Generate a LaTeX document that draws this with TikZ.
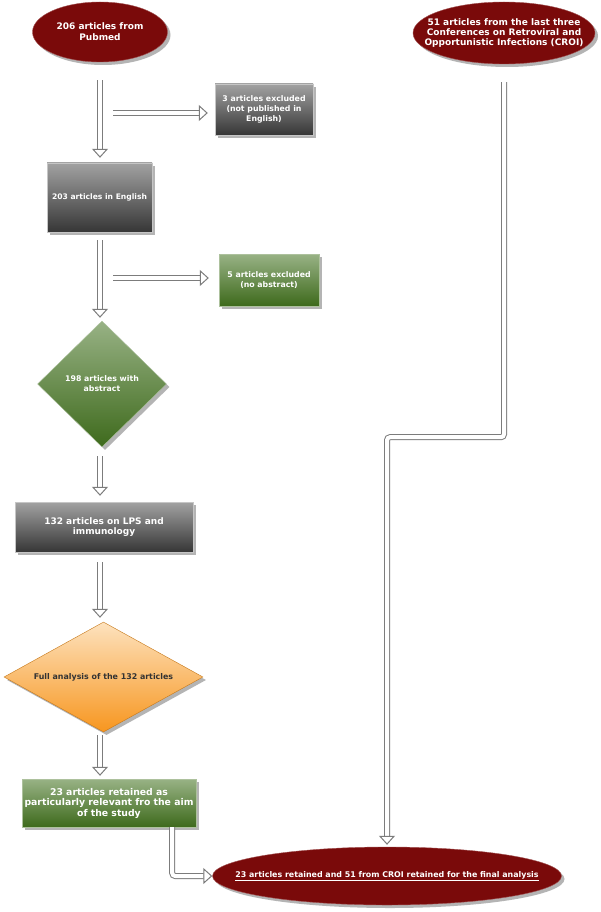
\documentclass[tikz,border=0pt]{standalone}
\usepackage{fontspec}
\setmainfont{DejaVu Sans}
\usepackage{xcolor}
\usepackage{tikz}
\usetikzlibrary{arrows.meta,shapes.geometric,shadows}
\definecolor{redx}{HTML}{7A0A0A}
\definecolor{arrgray}{HTML}{7C7C7C}
\definecolor{shadgray}{HTML}{B4B4B4}
\definecolor{graytop}{HTML}{A2A2A2}
\definecolor{graybot}{HTML}{363636}
\definecolor{greentop}{HTML}{98B285}
\definecolor{greenbot}{HTML}{3E6A1C}
\definecolor{orangetop}{HTML}{FDE2BE}
\definecolor{orangebot}{HTML}{F7961F}
\tikzset{
  ar/.style={draw=arrgray,line width=1pt,double=white,double distance=4pt,
    -{Triangle[open,length=9pt,width=16pt]}},
  shad/.style={drop shadow={shadow xshift=3pt,shadow yshift=-3pt,fill=shadgray,opacity=1}},
  redell/.style={ellipse,fill=redx,draw=redx!70,shad,text=white,align=center,inner sep=-40pt},
  graybox/.style={rectangle,draw=gray!45,top color=graytop,bottom color=graybot,shad,
    text=white,align=center,inner sep=2pt},
  greenbox/.style={rectangle,draw=greentop!80,top color=greentop,bottom color=greenbot,shad,
    text=white,align=center,inner sep=2pt},
  greendia/.style={diamond,draw=greentop!80,top color=greentop,bottom color=greenbot,shad,
    text=white,align=center,inner sep=0pt},
  orangedia/.style={diamond,draw=orangebot!80!black,top color=orangetop,bottom color=orangebot,shad,
    text=black!80,align=center,inner sep=0pt}
}
\begin{document}
\begin{tikzpicture}[x=1pt,y=-1pt]
\useasboundingbox[fill=white] (0,0) rectangle (600,912);
\node[redell,minimum width=135pt,minimum height=60pt,font=\fontsize{9}{11}\selectfont\bfseries]
  (pubmed) at (100,32) {206 articles from\\Pubmed};
\node[redell,minimum width=182pt,minimum height=62pt,font=\fontsize{9}{9.8}\selectfont\bfseries]
  (croi) at (504,33) {51 articles from the last three\\Conferences on Retroviral and\\Opportunistic Infections (CROI)};
\node[graybox,minimum width=98pt,minimum height=51pt,font=\fontsize{7.8}{9.7}\selectfont\bfseries]
  (excla) at (264,109.5) {3 articles excluded\\(not published in\\English)};
\node[graybox,minimum width=105pt,minimum height=69pt,font=\fontsize{7.6}{9}\selectfont\bfseries]
  (english) at (99.5,197.5) {203 articles in English};
\node[greenbox,minimum width=100pt,minimum height=52pt,font=\fontsize{7.8}{9.5}\selectfont\bfseries]
  (exclb) at (269,280) {5 articles excluded\\(no abstract)};
\node[greendia,minimum width=129pt,minimum height=126pt,font=\fontsize{7.8}{10}\selectfont\bfseries]
  (abstract) at (102,384) {198 articles with\\abstract};
\node[graybox,minimum width=178pt,minimum height=50pt,font=\fontsize{9}{10.5}\selectfont\bfseries]
  (lps) at (104,527) {132 articles on LPS and\\immunology};
\node[orangedia,aspect=1.8,minimum width=199pt,minimum height=110pt,font=\fontsize{7.9}{9}\selectfont\bfseries]
  (full) at (103.5,677) {Full analysis of the 132 articles};
\node[greenbox,minimum width=174pt,minimum height=48pt,font=\fontsize{9.3}{10.5}\selectfont\bfseries]
  (retained) at (109,803) {23 articles retained as\\particularly relevant fro the aim\\of the study};
\node[redell,minimum width=349pt,minimum height=58pt,font=\fontsize{7.9}{9}\selectfont\bfseries]
  (final) at (387,876) {\underline{23 articles retained and 51 from CROI retained for the final analysis}};
\coordinate (col) at (100,0);
\coordinate (ba) at (113,113);
\coordinate (bb) at (113,278);
\draw[ar,shorten <=18pt,shorten >=5pt] (pubmed.south -| col) -- (english.north -| col);
\draw[ar,shorten >=7pt] (ba) -- (ba -| excla.west);
\draw[ar,shorten <=8pt,shorten >=3pt] (english.south -| col) -- (abstract.north -| col);
\draw[ar,shorten >=10pt] (bb) -- (bb -| exclb.west);
\draw[ar,shorten <=9pt,shorten >=6pt] (abstract.south -| col) -- (lps.north -| col);
\draw[ar,shorten <=10pt,shorten >=4pt] (lps.south -| col) -- (full.north -| col);
\draw[ar,shorten <=3pt,shorten >=3pt] (full.south -| col) -- (retained.north -| col);
\draw[ar,rounded corners=3pt] ([xshift=-24pt]retained.south east) |- (final.west);
\draw[ar,rounded corners=3pt,shorten <=18pt,shorten >=2pt] (croi.south) -- ++(0,373) -| (final.north);
\end{tikzpicture}
\end{document}
